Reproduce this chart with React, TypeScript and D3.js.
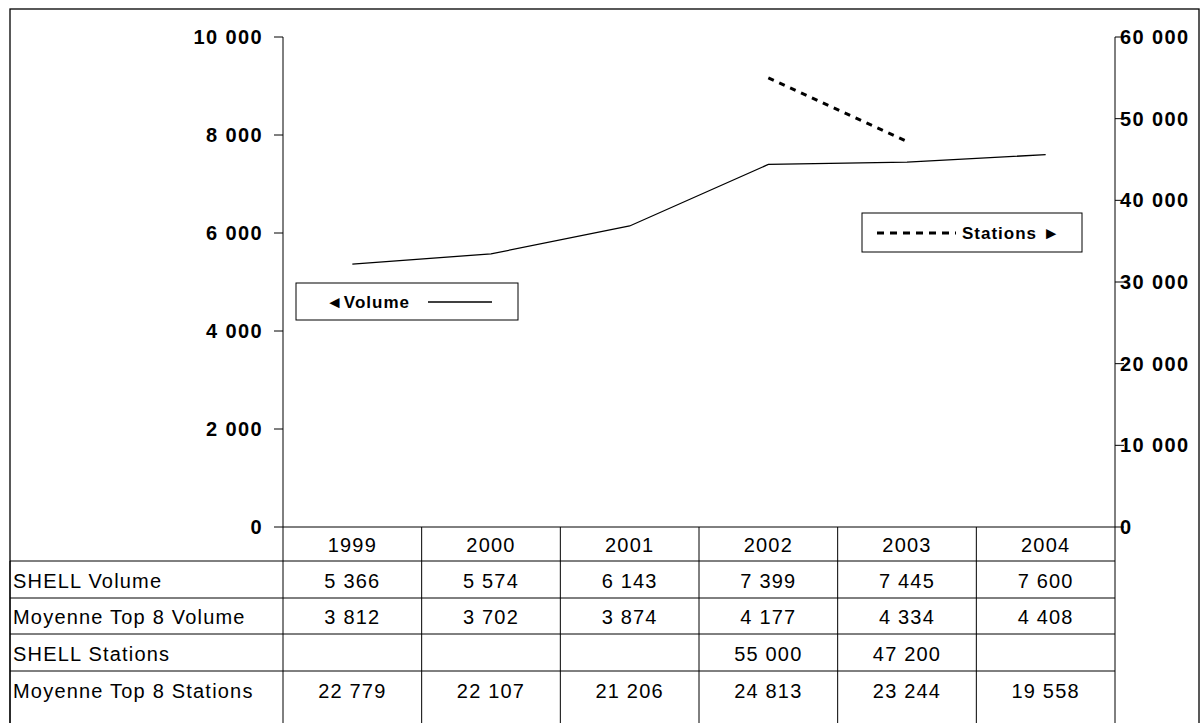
import React from "react";
import * as d3 from "d3";

const years = ["1999", "2000", "2001", "2002", "2003", "2004"];
const shellVolume = [5366, 5574, 6143, 7399, 7445, 7600];
const top8Volume = [3812, 3702, 3874, 4177, 4334, 4408];
const shellStations: (number | null)[] = [null, null, null, 55000, 47200, null];
const top8Stations = [22779, 22107, 21206, 24813, 23244, 19558];
const leftTicks = [0, 2000, 4000, 6000, 8000, 10000];
const rightTicks = [0, 10000, 20000, 30000, 40000, 50000, 60000];
const rowLabels = ["SHELL Volume", "Moyenne Top 8 Volume", "SHELL Stations", "Moyenne Top 8 Stations"];

const fmt = (v: number) => d3.format(",")(v).replace(/,/g, " ");

export default function App() {
  const L = 283, R = 1115, T = 37, B = 527;
  const x = d3.scaleBand().domain(years).range([L, R]);
  const yL = d3.scaleLinear().domain([0, 10000]).range([B, T]);
  const yR = d3.scaleLinear().domain([0, 60000]).range([B, T]);
  const cx = (y: string) => (x(y) as number) + x.bandwidth() / 2;
  const volLine = d3.line<number>().x((_, i) => cx(years[i])).y((d) => yL(d))(shellVolume) as string;
  const stPts = shellStations.map((v, i) => [v, i] as [number | null, number]).filter((d) => d[0] != null);
  const stLine = d3.line<[number | null, number]>().x((d) => cx(years[d[1]])).y((d) => yR(d[0] as number))(stPts) as string;
  const rowY = [527, 561, 598, 634, 671, 708];
  const rows = [shellVolume, top8Volume, shellStations, top8Stations];
  const font = "Arial, 'Liberation Sans', sans-serif";
  const ts = { fontSize: 20, letterSpacing: 1.2 } as any;
  const bs = { fontSize: 20, letterSpacing: 1.4, fontWeight: "bold" } as any;
  return (
    <svg width={1201} height={723} style={{ position: "absolute", left: 0, top: 0, background: "#fff" }} fontFamily={font}>
      <rect x={10} y={9} width={1189} height={730} fill="none" stroke="#000" strokeWidth={1.3} />
      <line x1={L} x2={L} y1={T} y2={B} stroke="#000" />
      <line x1={R} x2={R} y1={T} y2={B} stroke="#000" />
      {leftTicks.map((t) => (
        <g key={"l" + t}>
          <line x1={L - 9} x2={L} y1={yL(t)} y2={yL(t)} stroke="#000" />
          <text x={L - 20} y={yL(t)} dy="0.35em" textAnchor="end" style={bs}>{fmt(t)}</text>
        </g>
      ))}
      {rightTicks.map((t) => (
        <g key={"r" + t}>
          <line x1={R} x2={R + 9} y1={yR(t)} y2={yR(t)} stroke="#000" />
          <text x={R + 5} y={yR(t)} dy="0.35em" textAnchor="start" style={bs}>{fmt(t)}</text>
        </g>
      ))}
      <path d={volLine} fill="none" stroke="#000" strokeWidth={1.3} />
      <path d={stLine} fill="none" stroke="#000" strokeWidth={3} strokeDasharray="6 6" />
      <rect x={296} y={283} width={222} height={37} fill="#fff" stroke="#000" />
      <text x={326} y={302} dy="0.35em" style={{ fontSize: 17, fontWeight: "bold", letterSpacing: 1 }}>◄Volume</text>
      <line x1={428} x2={492} y1={302} y2={302} stroke="#000" strokeWidth={1.3} />
      <rect x={862} y={213} width={220} height={39} fill="#fff" stroke="#000" />
      <line x1={877} x2={956} y1={233} y2={233} stroke="#000" strokeWidth={3} strokeDasharray="7 6" />
      <text x={962} y={233} dy="0.35em" style={{ fontSize: 17, fontWeight: "bold", letterSpacing: 1 }}>Stations ►</text>
      <line x1={L} x2={R} y1={B} y2={B} stroke="#000" />
      {rowY.slice(1, 5).map((y) => (
        <line key={y} x1={10} x2={R} y1={y} y2={y} stroke="#000" />
      ))}
      {years.map((yr) => (
        <line key={"v" + yr} x1={x(yr) as number} x2={x(yr) as number} y1={B} y2={723} stroke="#000" />
      ))}
      <line x1={R} x2={R} y1={B} y2={723} stroke="#000" />
      <line x1={10} x2={10} y1={561} y2={723} stroke="#000" />
      {years.map((yr) => (
        <text key={"h" + yr} x={cx(yr)} y={(rowY[0] + rowY[1]) / 2 + 1} dy="0.35em" textAnchor="middle" style={ts}>{yr}</text>
      ))}
      {rows.map((r, ri) => (
        <g key={"row" + ri}>
          <text x={13} y={(rowY[ri + 1] + rowY[ri + 2]) / 2 + 1} dy="0.35em" style={ts}>{rowLabels[ri]}</text>
          {r.map((v, i) => v == null ? null : (
            <text key={i} x={cx(years[i])} y={(rowY[ri + 1] + rowY[ri + 2]) / 2 + 1} dy="0.35em" textAnchor="middle" style={ts}>{fmt(v)}</text>
          ))}
        </g>
      ))}
    </svg>
  );
}
